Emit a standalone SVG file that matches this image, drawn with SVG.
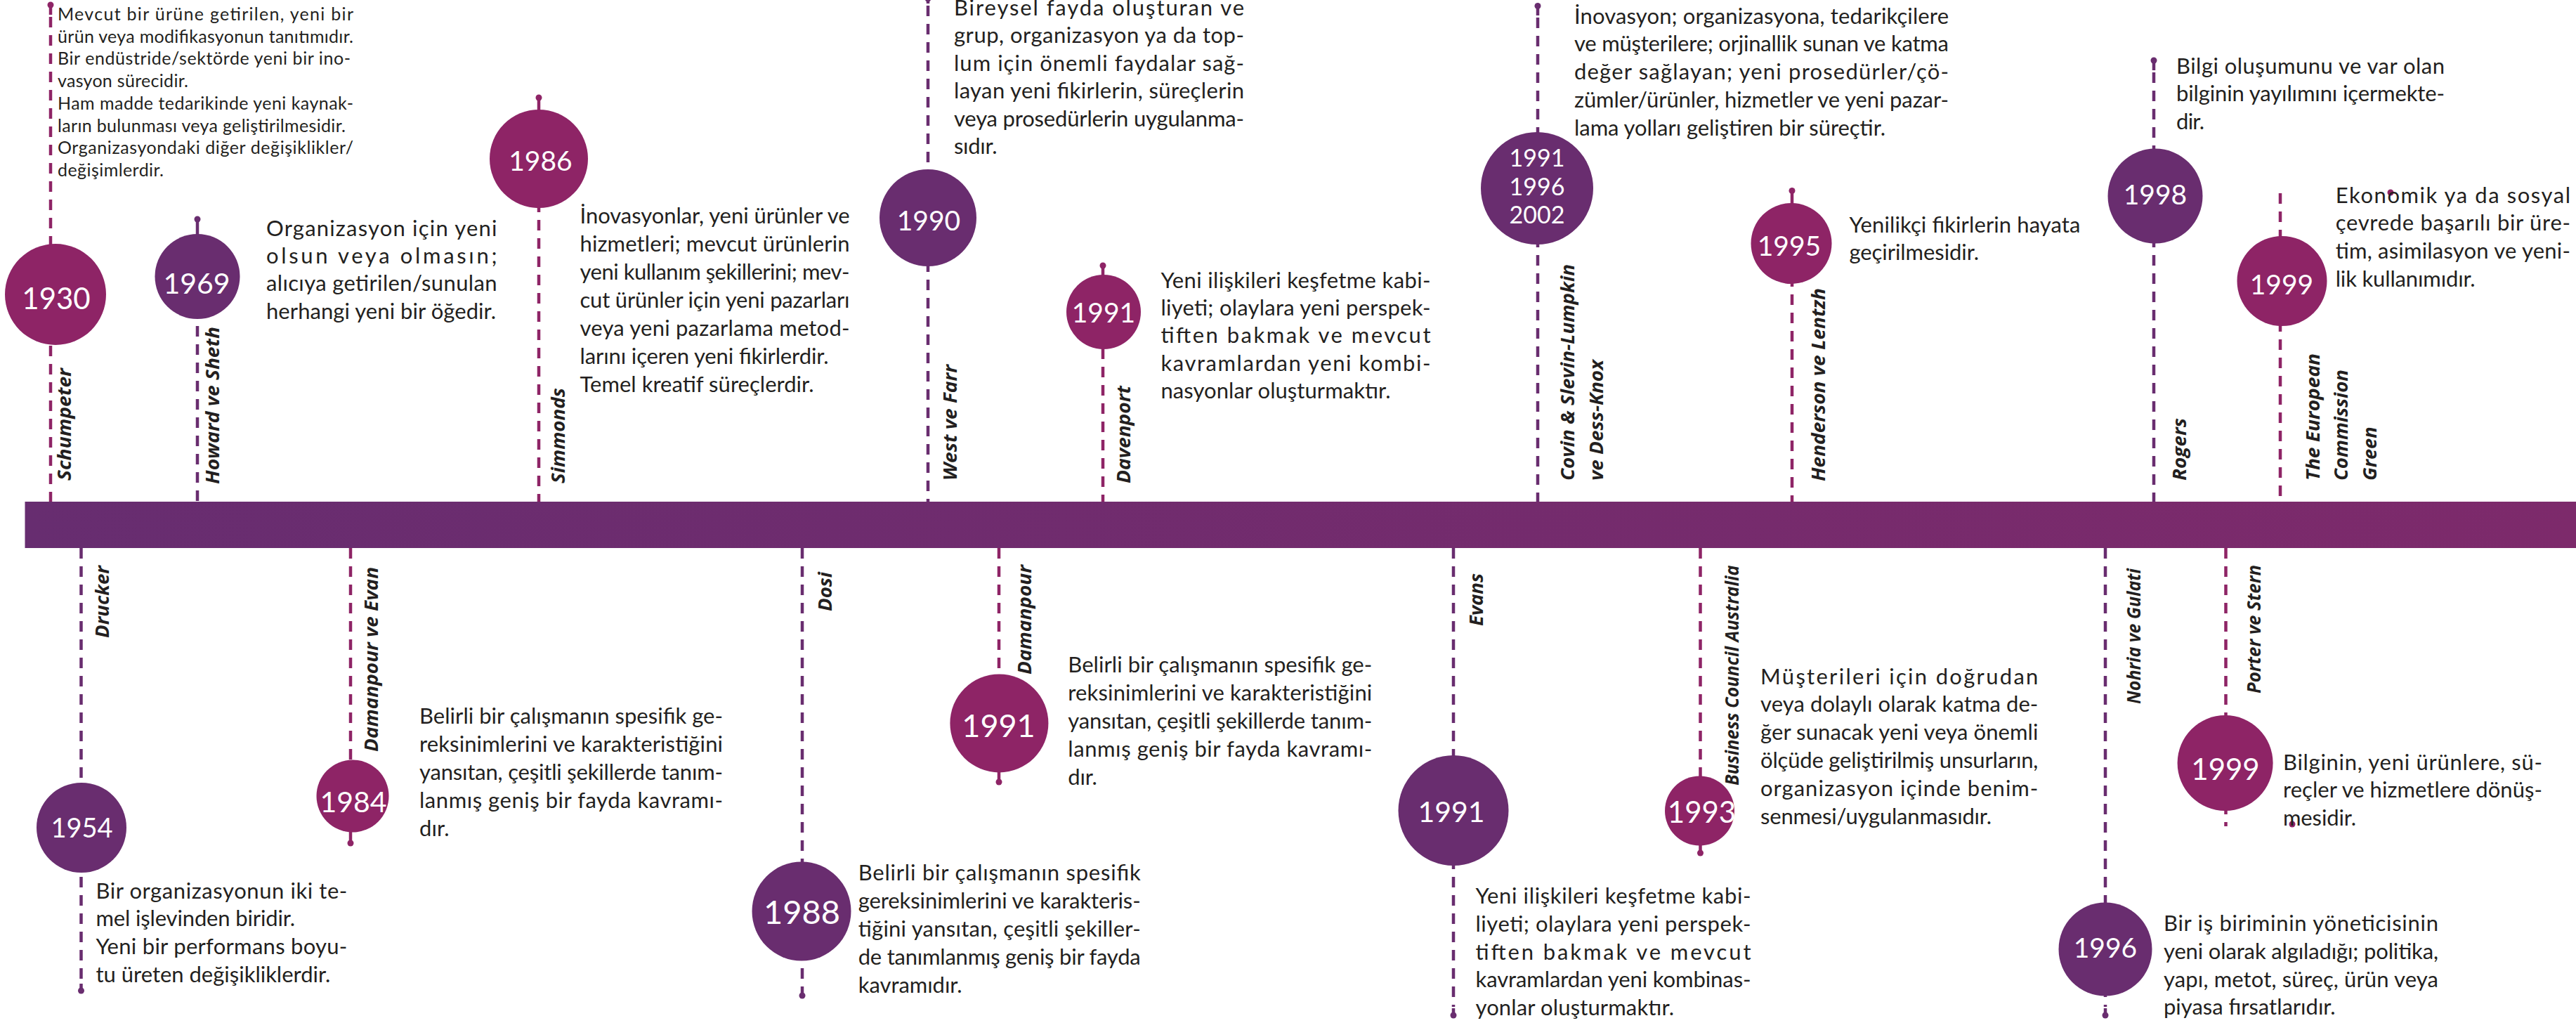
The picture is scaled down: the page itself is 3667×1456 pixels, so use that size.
<svg xmlns="http://www.w3.org/2000/svg" width="3667" height="1456" viewBox="0 0 3667 1456">
<defs>
<linearGradient id="barGrad" x1="0" y1="0" x2="1" y2="0">
<stop offset="0" stop-color="#672d70"/>
<stop offset="1" stop-color="#7d2a6b"/>
</linearGradient>
<style>
.d{font-family:Lato,'Liberation Sans',sans-serif;font-size:31px;fill:#231f20}
.s{font-size:25px}
.y{font-family:Lato,'Liberation Sans',sans-serif;fill:#fff;text-anchor:middle}
.l{font-family:'Open Sans','Noto Sans','Liberation Sans',sans-serif;font-weight:700;font-style:italic;font-size:27px;fill:#231f20}
.cp{fill:#692d6f}
.cm{fill:#8e2466}
.dash{fill:none;stroke-width:4.5;stroke-dasharray:15 11}
.stem{fill:none;stroke-width:4.5}
.sp{stroke:#692d6f}
.sm{stroke:#8e2466}
</style>
</defs>
<rect width="3667" height="1456" fill="#ffffff"/>

<g id="connectors">
<line class="stem sm" x1="72" y1="7" x2="72" y2="21"/><circle class="cm" cx="72" cy="7" r="4.5"/>
<line class="dash sm" x1="72" y1="24" x2="72" y2="714"/>
<line class="stem sp" x1="281" y1="312" x2="281" y2="334"/><circle class="cp" cx="281" cy="312" r="4.5"/>
<line class="dash sp" x1="281" y1="334" x2="281" y2="714"/>
<line class="stem sm" x1="767" y1="139" x2="767" y2="157"/><circle class="cm" cx="767" cy="139" r="4.5"/>
<line class="dash sm" x1="767" y1="157" x2="767" y2="714"/>
<line class="stem sp" x1="1321" y1="-2" x2="1321" y2="5"/><circle class="cp" cx="1321" cy="-2" r="4.5"/>
<line class="dash sp" x1="1321" y1="8" x2="1321" y2="714"/>
<line class="stem sm" x1="1570" y1="378" x2="1570" y2="392"/><circle class="cm" cx="1570" cy="378" r="4.5"/>
<line class="dash sm" x1="1570" y1="392" x2="1570" y2="714"/>
<line class="stem sp" x1="2189" y1="8.5" x2="2189" y2="22"/><circle class="cp" cx="2189" cy="8.5" r="4.5"/>
<line class="dash sp" x1="2189" y1="25" x2="2189" y2="714"/>
<line class="stem sm" x1="2551" y1="271.5" x2="2551" y2="289"/><circle class="cm" cx="2551" cy="271.5" r="4.5"/>
<line class="dash sm" x1="2551" y1="289" x2="2551" y2="714"/>
<line class="stem sp" x1="3066" y1="86" x2="3066" y2="100"/><circle class="cp" cx="3066" cy="86" r="4.5"/>
<line class="dash sp" x1="3066" y1="103" x2="3066" y2="714"/>
<line class="dash sm" x1="3246" y1="275" x2="3246" y2="714"/>
<circle class="cm" cx="3403" cy="274" r="4.5"/>
<line class="dash sp" x1="115.5" y1="780" x2="115.5" y2="1398"/>
<line class="stem sp" x1="115.5" y1="1400" x2="115.5" y2="1410"/><circle class="cp" cx="115.5" cy="1410" r="4.5"/>
<line class="dash sm" x1="499" y1="780" x2="499" y2="1083"/>
<line class="stem sm" x1="499" y1="1182" x2="499" y2="1200"/><circle class="cm" cx="499" cy="1200" r="4.5"/>
<line class="dash sp" x1="1142" y1="780" x2="1142" y2="1405"/>
<line class="stem sp" x1="1142" y1="1405" x2="1142" y2="1417"/><circle class="cp" cx="1142" cy="1417" r="4.5"/>
<line class="dash sm" x1="1422" y1="780" x2="1422" y2="961"/>
<line class="stem sm" x1="1422" y1="1097" x2="1422" y2="1113"/><circle class="cm" cx="1422" cy="1113" r="4.5"/>
<line class="dash sp" x1="2069" y1="780" x2="2069" y2="1433"/>
<line class="stem sp" x1="2069" y1="1435" x2="2069" y2="1445"/><circle class="cp" cx="2069" cy="1445" r="4.5"/>
<line class="dash sm" x1="2420.5" y1="780" x2="2420.5" y2="1106"/>
<line class="stem sm" x1="2420.5" y1="1200" x2="2420.5" y2="1214"/><circle class="cm" cx="2420.5" cy="1214" r="4.5"/>
<line class="dash sp" x1="2997" y1="780" x2="2997" y2="1433"/>
<line class="stem sp" x1="2997" y1="1435" x2="2997" y2="1445"/><circle class="cp" cx="2997" cy="1445" r="4.5"/>
<line class="dash sm" x1="3168.5" y1="780" x2="3168.5" y2="1176"/>
<circle class="cm" cx="3263" cy="1173" r="4.5"/>
</g>

<g id="timeline-bar">
<rect x="35.5" y="714" width="3632" height="66" fill="url(#barGrad)"/>
</g>

<g id="node-1930-schumpeter">
<circle class="cm" cx="79" cy="419" r="72"/>
<text class="y" x="80" y="440" font-size="42">1930</text>
<text class="l" transform="translate(101,684) rotate(-90)" textLength="160" lengthAdjust="spacingAndGlyphs">Schumpeter</text>
<text class="d s" x="82" y="29" textLength="421" lengthAdjust="spacing">Mevcut bir ürüne getirilen, yeni bir</text>
<text class="d s" x="82" y="60.7" textLength="421" lengthAdjust="spacing">ürün veya modifikasyonun tanıtımıdır.</text>
<text class="d s" x="82" y="92.4" textLength="417" lengthAdjust="spacing">Bir endüstride/sektörde yeni bir ino-</text>
<text class="d s" x="82" y="124.1" textLength="186" lengthAdjust="spacing">vasyon sürecidir.</text>
<text class="d s" x="82" y="155.8" textLength="421" lengthAdjust="spacing">Ham madde tedarikinde yeni kaynak-</text>
<text class="d s" x="82" y="187.5" textLength="410" lengthAdjust="spacing">ların bulunması veya geliştirilmesidir.</text>
<text class="d s" x="82" y="219.2" textLength="421" lengthAdjust="spacing">Organizasyondaki diğer değişiklikler/</text>
<text class="d s" x="82" y="250.9" textLength="151" lengthAdjust="spacing">değişimlerdir.</text>
</g>

<g id="node-1969-howard-sheth">
<circle class="cp" cx="281" cy="393.5" r="60.5"/>
<text class="y" x="280" y="418" font-size="41">1969</text>
<text class="l" transform="translate(312,689) rotate(-90)" textLength="224" lengthAdjust="spacingAndGlyphs">Howard ve Sheth</text>
<text class="d" x="379" y="335.5" textLength="328.5" lengthAdjust="spacing">Organizasyon için yeni</text>
<text class="d" x="379" y="375" textLength="328.5" lengthAdjust="spacing">olsun veya olmasın;</text>
<text class="d" x="379" y="414.3" textLength="328.5" lengthAdjust="spacing">alıcıya getirilen/sunulan</text>
<text class="d" x="379" y="454" textLength="327" lengthAdjust="spacing">herhangi yeni bir öğedir.</text>
</g>

<g id="node-1986-simmonds">
<circle class="cm" cx="767" cy="226" r="70"/>
<text class="y" x="769.5" y="243" font-size="39">1986</text>
<text class="l" transform="translate(804,688) rotate(-90)" textLength="136" lengthAdjust="spacingAndGlyphs">Simmonds</text>
<text class="d" x="825.5" y="318" textLength="384" lengthAdjust="spacing">İnovasyonlar, yeni ürünler ve</text>
<text class="d" x="825.5" y="358" textLength="384" lengthAdjust="spacing">hizmetleri; mevcut ürünlerin</text>
<text class="d" x="825.5" y="398" textLength="384" lengthAdjust="spacing">yeni kullanım şekillerini; mev-</text>
<text class="d" x="825.5" y="438" textLength="384" lengthAdjust="spacing">cut ürünler için yeni pazarları</text>
<text class="d" x="825.5" y="478" textLength="384" lengthAdjust="spacing">veya yeni pazarlama metod-</text>
<text class="d" x="825.5" y="518" textLength="354" lengthAdjust="spacing">larını içeren yeni fikirlerdir.</text>
<text class="d" x="825.5" y="558" textLength="333" lengthAdjust="spacing">Temel kreatif süreçlerdir.</text>
</g>

<g id="node-1990-west-farr">
<circle class="cp" cx="1321" cy="310" r="69"/>
<text class="y" x="1322" y="328" font-size="39">1990</text>
<text class="l" transform="translate(1362,684) rotate(-90)" textLength="165" lengthAdjust="spacingAndGlyphs">West ve Farr</text>
<text class="d" x="1358" y="22" textLength="413" lengthAdjust="spacing">Bireysel fayda oluşturan ve</text>
<text class="d" x="1358" y="61.4" textLength="413" lengthAdjust="spacing">grup, organizasyon ya da top-</text>
<text class="d" x="1358" y="100.8" textLength="413" lengthAdjust="spacing">lum için önemli faydalar sağ-</text>
<text class="d" x="1358" y="140.2" textLength="413" lengthAdjust="spacing">layan yeni fikirlerin, süreçlerin</text>
<text class="d" x="1358" y="179.6" textLength="413" lengthAdjust="spacing">veya prosedürlerin uygulanma-</text>
<text class="d" x="1358" y="219" textLength="61.5" lengthAdjust="spacing">sıdır.</text>
</g>

<g id="node-1991-davenport">
<circle class="cm" cx="1571" cy="444" r="53"/>
<text class="y" x="1571" y="458.5" font-size="39">1991</text>
<text class="l" transform="translate(1609,688) rotate(-90)" textLength="139" lengthAdjust="spacingAndGlyphs">Davenport</text>
<text class="d" x="1652.5" y="409.7" textLength="384" lengthAdjust="spacing">Yeni ilişkileri keşfetme kabi-</text>
<text class="d" x="1652.5" y="449" textLength="384" lengthAdjust="spacing">liyeti; olaylara yeni perspek-</text>
<text class="d" x="1652.5" y="488.4" textLength="384" lengthAdjust="spacing">tiften bakmak ve mevcut</text>
<text class="d" x="1652.5" y="527.7" textLength="384" lengthAdjust="spacing">kavramlardan yeni kombi-</text>
<text class="d" x="1652.5" y="567" textLength="327" lengthAdjust="spacing">nasyonlar oluşturmaktır.</text>
</g>

<g id="node-1991-1996-2002-covin">
<circle class="cp" cx="2188" cy="268" r="80"/>
<text class="y" x="2188" y="237.4" font-size="34">1991</text>
<text class="y" x="2188" y="278" font-size="34">1996</text>
<text class="y" x="2188" y="318" font-size="34">2002</text>
<text class="l" transform="translate(2241,684) rotate(-90)" textLength="308" lengthAdjust="spacingAndGlyphs">Covin &amp; Slevin-Lumpkin</text>
<text class="l" transform="translate(2282,684) rotate(-90)" textLength="172" lengthAdjust="spacingAndGlyphs">ve Dess-Knox</text>
<text class="d" x="2241" y="33.5" textLength="533" lengthAdjust="spacing">İnovasyon; organizasyona, tedarikçilere</text>
<text class="d" x="2241" y="73.4" textLength="533" lengthAdjust="spacing">ve müşterilere; orjinallik sunan ve katma</text>
<text class="d" x="2241" y="113.3" textLength="533" lengthAdjust="spacing">değer sağlayan; yeni prosedürler/çö-</text>
<text class="d" x="2241" y="153.2" textLength="533" lengthAdjust="spacing">zümler/ürünler, hizmetler ve yeni pazar-</text>
<text class="d" x="2241" y="193.1" textLength="443" lengthAdjust="spacing">lama yolları geliştiren bir süreçtir.</text>
</g>

<g id="node-1995-henderson-lentzh">
<circle class="cm" cx="2550" cy="346.5" r="57.5"/>
<text class="y" x="2547" y="364" font-size="39">1995</text>
<text class="l" transform="translate(2598,685) rotate(-90)" textLength="275" lengthAdjust="spacingAndGlyphs">Henderson ve Lentzh</text>
<text class="d" x="2632.5" y="330.5" textLength="329" lengthAdjust="spacing">Yenilikçi fikirlerin hayata</text>
<text class="d" x="2632.5" y="370" textLength="184.5" lengthAdjust="spacing">geçirilmesidir.</text>
</g>

<g id="node-1998-rogers">
<circle class="cp" cx="3068" cy="279" r="67.5"/>
<text class="y" x="3068" y="291" font-size="39">1998</text>
<text class="l" transform="translate(3112,684) rotate(-90)" textLength="89" lengthAdjust="spacingAndGlyphs">Rogers</text>
<text class="d" x="3098" y="104.7" textLength="382" lengthAdjust="spacing">Bilgi oluşumunu ve var olan</text>
<text class="d" x="3098" y="144.3" textLength="382" lengthAdjust="spacing">bilginin yayılımını içermekte-</text>
<text class="d" x="3098" y="183.9" textLength="40" lengthAdjust="spacing">dir.</text>
</g>

<g id="node-1999-european-commission">
<circle class="cm" cx="3248.5" cy="400" r="64"/>
<text class="y" x="3248" y="419" font-size="39">1999</text>
<text class="l" transform="translate(3302,684) rotate(-90)" textLength="181" lengthAdjust="spacingAndGlyphs">The European</text>
<text class="l" transform="translate(3342,684) rotate(-90)" textLength="158" lengthAdjust="spacingAndGlyphs">Commission</text>
<text class="l" transform="translate(3383,684) rotate(-90)" textLength="76.5" lengthAdjust="spacingAndGlyphs">Green</text>
<text class="d" x="3324.7" y="288.6" textLength="334.3" lengthAdjust="spacing">Ekonomik ya da sosyal</text>
<text class="d" x="3324.7" y="328.4" textLength="334.3" lengthAdjust="spacing">çevrede başarılı bir üre-</text>
<text class="d" x="3324.7" y="368.2" textLength="334.3" lengthAdjust="spacing">tim, asimilasyon ve yeni-</text>
<text class="d" x="3324.7" y="408" textLength="199" lengthAdjust="spacing">lik kullanımıdır.</text>
</g>

<g id="node-1954-drucker">
<circle class="cp" cx="116" cy="1178" r="64"/>
<text class="y" x="116.5" y="1192" font-size="38">1954</text>
<text class="l" transform="translate(155,908) rotate(-90)" textLength="103" lengthAdjust="spacingAndGlyphs">Drucker</text>
<text class="d" x="136.4" y="1278.7" textLength="358" lengthAdjust="spacing">Bir organizasyonun iki te-</text>
<text class="d" x="136.4" y="1318.3" textLength="283.6" lengthAdjust="spacing">mel işlevinden biridir.</text>
<text class="d" x="136.4" y="1357.9" textLength="358" lengthAdjust="spacing">Yeni bir performans boyu-</text>
<text class="d" x="136.4" y="1397.5" textLength="334" lengthAdjust="spacing">tu üreten değişikliklerdir.</text>
</g>

<g id="node-1984-damanpour-evan">
<circle class="cm" cx="502" cy="1133" r="51.5"/>
<text class="y" x="503" y="1155.7" font-size="41">1984</text>
<text class="l" transform="translate(538,1070) rotate(-90)" textLength="263" lengthAdjust="spacingAndGlyphs">Damanpour ve Evan</text>
<text class="d" x="597" y="1029.9" textLength="432" lengthAdjust="spacing">Belirli bir çalışmanın spesifik ge-</text>
<text class="d" x="597" y="1069.8" textLength="432" lengthAdjust="spacing">reksinimlerini ve karakteristiğini</text>
<text class="d" x="597" y="1109.7" textLength="432" lengthAdjust="spacing">yansıtan, çeşitli şekillerde tanım-</text>
<text class="d" x="597" y="1149.6" textLength="432" lengthAdjust="spacing">lanmış geniş bir fayda kavramı-</text>
<text class="d" x="597" y="1189.5" textLength="42.5" lengthAdjust="spacing">dır.</text>
</g>

<g id="node-1988-dosi">
<circle class="cp" cx="1141" cy="1297" r="70.5"/>
<text class="y" x="1141.5" y="1315.3" font-size="47">1988</text>
<text class="l" transform="translate(1184,870) rotate(-90)" textLength="56" lengthAdjust="spacingAndGlyphs">Dosi</text>
<text class="d" x="1221.7" y="1252.9" textLength="402" lengthAdjust="spacing">Belirli bir çalışmanın spesifik</text>
<text class="d" x="1221.7" y="1292.8" textLength="402" lengthAdjust="spacing">gereksinimlerini ve karakteris-</text>
<text class="d" x="1221.7" y="1332.7" textLength="402" lengthAdjust="spacing">tiğini yansıtan, çeşitli şekiller-</text>
<text class="d" x="1221.7" y="1372.6" textLength="402" lengthAdjust="spacing">de tanımlanmış geniş bir fayda</text>
<text class="d" x="1221.7" y="1412.5" textLength="148" lengthAdjust="spacing">kavramıdır.</text>
</g>

<g id="node-1991-damanpour">
<circle class="cm" cx="1422.4" cy="1029.4" r="70"/>
<text class="y" x="1421.5" y="1048.6" font-size="45">1991</text>
<text class="l" transform="translate(1468,960) rotate(-90)" textLength="156" lengthAdjust="spacingAndGlyphs">Damanpour</text>
<text class="d" x="1520.3" y="957" textLength="433" lengthAdjust="spacing">Belirli bir çalışmanın spesifik ge-</text>
<text class="d" x="1520.3" y="996.9" textLength="433" lengthAdjust="spacing">reksinimlerini ve karakteristiğini</text>
<text class="d" x="1520.3" y="1036.8" textLength="433" lengthAdjust="spacing">yansıtan, çeşitli şekillerde tanım-</text>
<text class="d" x="1520.3" y="1076.7" textLength="433" lengthAdjust="spacing">lanmış geniş bir fayda kavramı-</text>
<text class="d" x="1520.3" y="1116.6" textLength="41.5" lengthAdjust="spacing">dır.</text>
</g>

<g id="node-1991-evans">
<circle class="cp" cx="2069" cy="1153.6" r="78.5"/>
<text class="y" x="2066" y="1170" font-size="41">1991</text>
<text class="l" transform="translate(2111,891) rotate(-90)" textLength="75" lengthAdjust="spacingAndGlyphs">Evans</text>
<text class="d" x="2100.5" y="1285.7" textLength="392" lengthAdjust="spacing">Yeni ilişkileri keşfetme kabi-</text>
<text class="d" x="2100.5" y="1325.6" textLength="392" lengthAdjust="spacing">liyeti; olaylara yeni perspek-</text>
<text class="d" x="2100.5" y="1365.5" textLength="392" lengthAdjust="spacing">tiften bakmak ve mevcut</text>
<text class="d" x="2100.5" y="1405.4" textLength="392" lengthAdjust="spacing">kavramlardan yeni kombinas-</text>
<text class="d" x="2100.5" y="1445.3" textLength="282.5" lengthAdjust="spacing">yonlar oluşturmaktır.</text>
</g>

<g id="node-1993-business-council-australia">
<circle class="cm" cx="2419.5" cy="1154" r="49.5"/>
<text class="y" x="2422.5" y="1170.7" font-size="42">1993</text>
<text class="l" transform="translate(2475,1118) rotate(-90)" textLength="313.6" lengthAdjust="spacingAndGlyphs">Business Council Australia</text>
<text class="d" x="2506" y="973.5" textLength="395.4" lengthAdjust="spacing">Müşterileri için doğrudan</text>
<text class="d" x="2506" y="1013.4" textLength="395.4" lengthAdjust="spacing">veya dolaylı olarak katma de-</text>
<text class="d" x="2506" y="1053.3" textLength="395.4" lengthAdjust="spacing">ğer sunacak yeni veya önemli</text>
<text class="d" x="2506" y="1093.2" textLength="395.4" lengthAdjust="spacing">ölçüde geliştirilmiş unsurların,</text>
<text class="d" x="2506" y="1133.1" textLength="395.4" lengthAdjust="spacing">organizasyon içinde benim-</text>
<text class="d" x="2506" y="1173" textLength="329" lengthAdjust="spacing">senmesi/uygulanmasıdır.</text>
</g>

<g id="node-1996-nohria-gulati">
<circle class="cp" cx="2997" cy="1351" r="66.5"/>
<text class="y" x="2997" y="1363" font-size="39">1996</text>
<text class="l" transform="translate(3047,1002) rotate(-90)" textLength="193" lengthAdjust="spacingAndGlyphs">Nohria ve Gulati</text>
<text class="d" x="3080" y="1324.7" textLength="391" lengthAdjust="spacing">Bir iş biriminin yöneticisinin</text>
<text class="d" x="3080" y="1364.6" textLength="391" lengthAdjust="spacing">yeni olarak algıladığı; politika,</text>
<text class="d" x="3080" y="1404.5" textLength="391" lengthAdjust="spacing">yapı, metot, süreç, ürün veya</text>
<text class="d" x="3080" y="1444.4" textLength="244.7" lengthAdjust="spacing">piyasa fırsatlarıdır.</text>
</g>

<g id="node-1999-porter-stern">
<circle class="cm" cx="3167.6" cy="1086" r="68"/>
<text class="y" x="3168" y="1109.7" font-size="42">1999</text>
<text class="l" transform="translate(3218,987) rotate(-90)" textLength="183" lengthAdjust="spacingAndGlyphs">Porter ve Stern</text>
<text class="d" x="3250" y="1095.6" textLength="369" lengthAdjust="spacing">Bilginin, yeni ürünlere, sü-</text>
<text class="d" x="3250" y="1135.1" textLength="369" lengthAdjust="spacing">reçler ve hizmetlere dönüş-</text>
<text class="d" x="3250" y="1174.6" textLength="104" lengthAdjust="spacing">mesidir.</text>
</g>
</svg>
